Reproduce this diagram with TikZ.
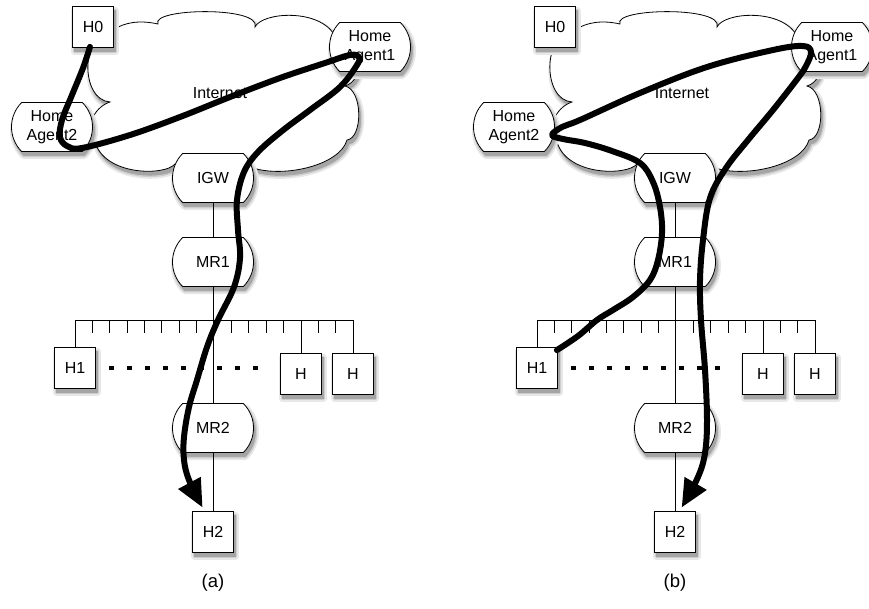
\documentclass[tikz,border=0pt]{standalone}
\usepackage{fontspec}
\setmainfont{Liberation Sans}
\usetikzlibrary{shapes.misc,arrows.meta,calc}
\definecolor{shadowA}{RGB}{232,232,232}
\definecolor{shadowB}{RGB}{205,205,205}
\definecolor{shadowC}{RGB}{165,165,165}
\tikzset{
 lbl/.style={font=\fontsize{16}{18.5}\selectfont},
 hostbox/.style={draw,fill=white,line width=0.8pt,minimum width=41pt,minimum height=41pt,inner sep=0pt,lbl},
 router/.style={draw,fill=white,line width=0.8pt,rounded rectangle,rounded rectangle arc length=90,minimum width=81pt,minimum height=49pt,inner sep=0pt,align=center,lbl},
 shadeA/.style={draw=shadowA,fill=shadowA,line width=7pt,line join=round},
 shadeB/.style={draw=shadowB,fill=shadowB,line width=3.5pt,line join=round},
 shadeC/.style={draw=shadowC,fill=shadowC,line width=0.5pt},
 wire/.style={line width=0.8pt},
 route/.style={line width=6pt,line cap=round,line join=round},
 routearrow/.style={route,-{Triangle[length=28pt,width=24pt]}},
 dots/.style={line width=3.2pt,dash pattern=on 5pt off 13pt},
 cloudshape/.style={draw,fill=white,line width=0.8pt},
 caption/.style={font=\fontsize{18.5}{22}\selectfont},
}
\newcommand\cloudpath{(110,102) .. controls (80,100) and (80,32) .. (113,30)
  .. controls (125,22) and (140,20) .. (158,24)
  .. controls (150,8) and (262,6) .. (255,27)
  .. controls (262,12) and (320,8) .. (335,36)
  .. controls (365,42) and (365,80) .. (345,86)
  .. controls (363,90) and (363,138) .. (347,140)
  .. controls (340,165) and (285,178) .. (253,168)
  -- (175,164)
  .. controls (165,176) and (105,176) .. (95,142)
  .. controls (85,130) and (92,108) .. cycle}
\begin{document}
\begin{tikzpicture}[x=1pt,y=-1pt]
\useasboundingbox (0,0) rectangle (869,608);
\foreach \p/\dx in {a/0,b/462}{
 \begin{scope}[xshift=\dx pt]
  \path[shadeA,shift={(2,4)}] \cloudpath;
  \path[shadeB,shift={(2,4)}] \cloudpath;
  \path[shadeC,shift={(2,4)}] \cloudpath;
  \path[cloudshape] \cloudpath;
  \node[lbl] (\p inet) at (220,93) {Internet};
  \foreach \s/\n/\x/\y/\t in {hostbox/H0/93/27/H0, router/HA1/370/47/{Home\\Agent1}, router/HA2/52/127/{Home\\Agent2}, router/IGW/213/178/IGW, router/MR1/213/262/MR1, router/MR2/213/428/MR2, hostbox/H2/213/532/H2, hostbox/H1/75/368/H1, hostbox/Hm/301/374/H, hostbox/Hr/353/374/H}{
   \node[\s,shadeA] at (\x+2,\y+4) {};
   \node[\s,shadeB] at (\x+2,\y+4) {};
   \node[\s,shadeC] at (\x+2,\y+4) {};
   \node[\s] (\p\n) at (\x,\y) {\t};
  }
  \coordinate (\p busL) at (75,320);
  \coordinate (\p busR) at (353,320);
  \coordinate (\p busM) at (301,320);
  \draw[wire] (\p IGW.south) -- (\p MR1.north);
  \draw[wire] (\p MR1.south) -- (\p MR2.north);
  \draw[wire] (\p MR2.south) -- (\p H2.north);
  \draw[wire] (\p busL) -- (\p busR);
  \draw[wire] (\p busL) -- (\p H1.north);
  \draw[wire] (\p busM) -- (\p Hm.north);
  \draw[wire] (\p busR) -- (\p Hr.north);
  \foreach \k in {1,...,7,9,10,11,12,14,15}{\draw[wire] (75+\k*17.375,320) -- ++(0,13);}
  \draw[dots] ($(\p H1.east)+(13,0)$) -- ($(\p Hm.west)+(-22,-6)$);
  \node[caption] (\p cap) at (213,583) {(\p)};
 \end{scope}
}
\draw[routearrow] plot[smooth,tension=0.6] coordinates {($(aH0.south)+(-3,-1)$) (83,68) (72,95) (62,120) (60,137) (67,146) (82,148) (130,135) (180,117) (230,97) (280,78) (325,63) (350,55) (359,57) (357,65) (340,87) (310,110) (282,131) (258,152) (244,172) (237,200) (238,230) (240,258) (234,287) (218,320) (207,347) (197,380) (189,407) (184,437) (184,460) (189,480) ($(aH2.north west)+(10.5,-3.5)$)};
\draw[routearrow] plot[smooth,tension=0.6] coordinates {($(bH1.north east)+(-1,3)$) (578,336) (597,320) (613,310) (633,297) (650,280) (658,260) (662,233) (660,207) (653,182) (640,163) (612,151) (585,143) (563,139) (552,135) (562,127) (580,120) (640,93) (707,67) (773,50) (803,46) (811,52) (806,66) (798,78) (773,110) (748,140) (726,168) (710,198) (703,240) (700,280) (701,320) (705,370) (707,420) (705,453) (698,477) ($(bH2.north west)+(27.5,-3.5)$)};
\end{tikzpicture}
\end{document}
